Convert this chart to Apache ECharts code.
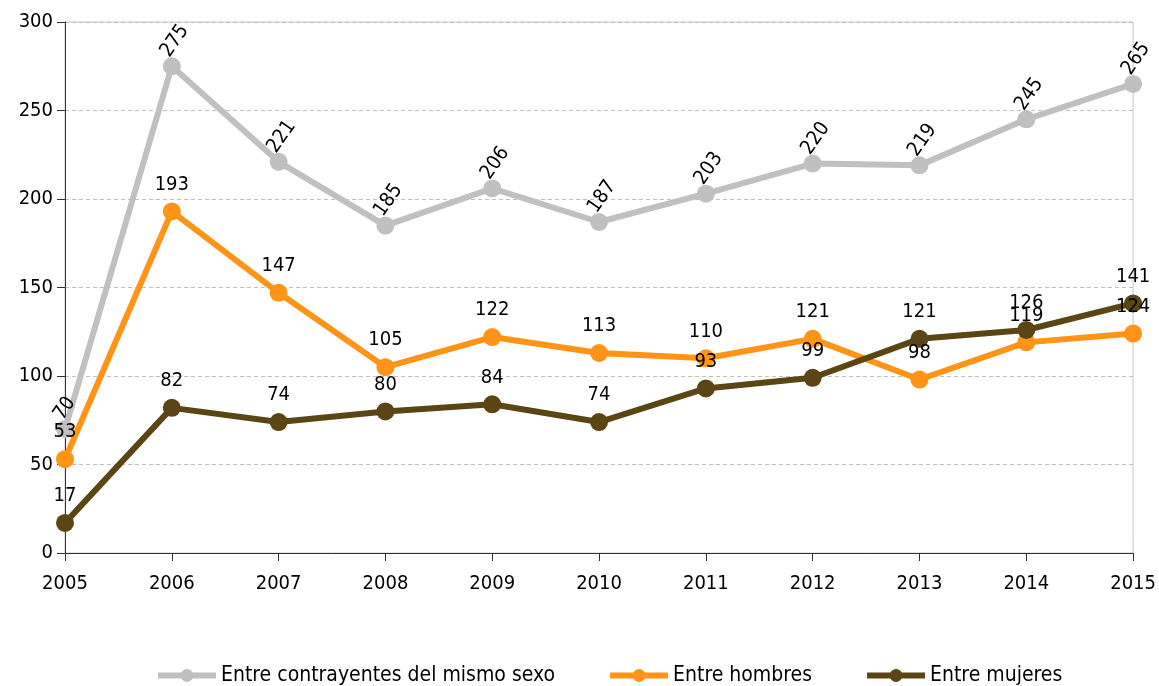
<!DOCTYPE html>
<html>
<head>
<meta charset="utf-8">
<script src="https://cdn.jsdelivr.net/npm/echarts@6/dist/echarts.min.js"></script>
<style>
  html, body { margin: 0; padding: 0; background: #fff; }
  #chart { width: 1159px; height: 686px; }
</style>
</head>
<body>
<div id="chart"></div>
<script>
const years = ['2005', '2006', '2007', '2008', '2009', '2010', '2011', '2012', '2013', '2014', '2015']
const mismoSexo = [70, 275, 221, 185, 206, 187, 203, 220, 219, 245, 265]
const hombres = [53, 193, 147, 105, 122, 113, 110, 121, 98, 119, 124]
const mujeres = [17, 82, 74, 80, 84, 74, 93, 99, 121, 126, 141]

const FONT = '"DejaVu Sans Condensed", "DejaVu Sans", sans-serif'

const chart = echarts.init(document.getElementById('chart'))

const lineSeries = (name, data, color, labelOpt) => ({
  name,
  type: 'line',
  data,
  symbol: 'circle',
  symbolSize: 18,
  lineStyle: { color, width: 6 },
  itemStyle: { color },
  label: Object.assign({
    show: true,
    position: 'top',
    distance: 8,
    color: '#000',
    fontFamily: FONT,
    fontSize: 20
  }, labelOpt || {}),
  z: 3
})

chart.setOption({
  animation: false,
  textStyle: { fontFamily: FONT },
  grid: { left: 65, right: 25, top: 22, bottom: 133, show: true, borderColor: '#c8c8c8', borderWidth: 1 },
  xAxis: {
    type: 'category',
    data: years,
    boundaryGap: false,
    axisLine: { lineStyle: { color: '#333', width: 1 } },
    axisTick: { show: true, alignWithLabel: true, length: 8, lineStyle: { color: '#333' } },
    axisLabel: { color: '#000', fontSize: 20, fontFamily: FONT, margin: 21 },
    splitLine: { show: false }
  },
  yAxis: {
    type: 'value',
    min: 0,
    max: 300,
    interval: 50,
    axisLine: { show: true, lineStyle: { color: '#333', width: 1 } },
    axisTick: { show: true, length: 8, lineStyle: { color: '#333' } },
    axisLabel: { color: '#000', fontSize: 20, fontFamily: FONT, margin: 12 },
    splitLine: { show: true, lineStyle: { color: '#c0c0c0', type: [4, 3] } }
  },
  legend: {
    bottom: -5,
    left: 150,
    itemWidth: 58,
    itemHeight: 16,
    itemGap: 52,
    lineStyle: { width: 6 },
    textStyle: { color: '#000', fontSize: 21, fontFamily: FONT },
    data: ['Entre contrayentes del mismo sexo', 'Entre hombres', 'Entre mujeres']
  },
  series: [
    lineSeries('Entre contrayentes del mismo sexo', mismoSexo, '#c0c0c0', { rotate: 55, distance: 12, align: 'left', verticalAlign: 'middle', offset: [-12, 0] }),
    lineSeries('Entre hombres', hombres, '#ff9416'),
    lineSeries('Entre mujeres', mujeres, '#5c4515')
  ]
})
</script>
</body>
</html>
